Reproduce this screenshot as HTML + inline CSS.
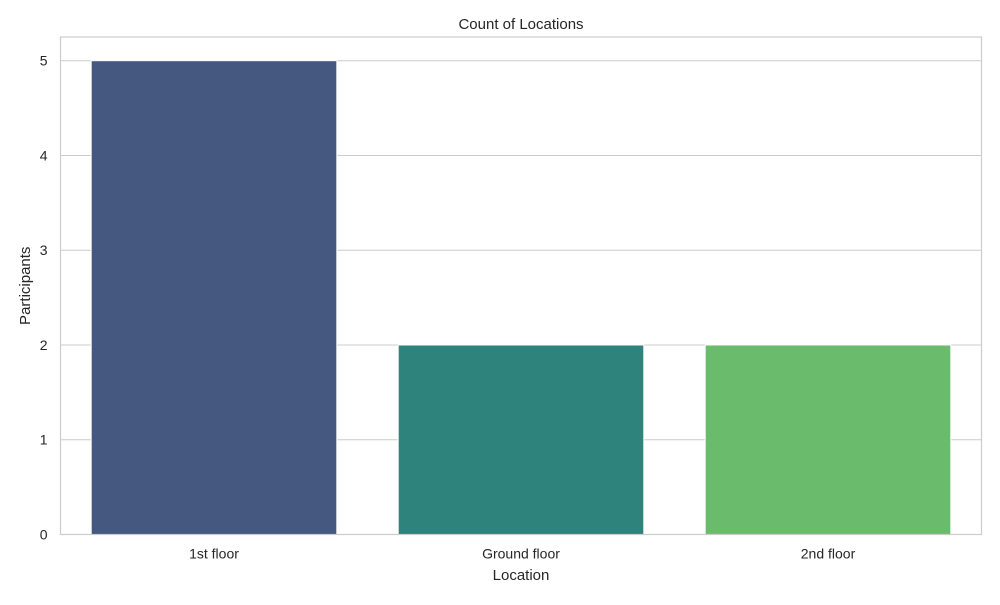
<!DOCTYPE html>
<html><head><meta charset="utf-8"><style>
body{margin:0;background:#fff;font-family:"Liberation Sans","DejaVu Sans",sans-serif;}
</style></head><body>
<svg id="chart" width="1000" height="600" xmlns="http://www.w3.org/2000/svg">
<rect width="1000" height="600" fill="#fff"/>
<g id="grid"></g><g id="bars"></g><g id="axes"></g>
</svg>
<script>
const categories = ["1st floor","Ground floor","2nd floor"];
const values = [5,2,2];
const colors = ["#45587f","#2e837c","#6abc6c"];
const yTicks = [0,1,2,3,4,5];
const NS="http://www.w3.org/2000/svg";
const L=60.5,R=981.5,T=37,B=534.5,yMax=5.25;
const y=v=>B-(v/yMax)*(B-T);
const step=(R-L)/categories.length;
const x=i=>L+step*(i+0.5);
function mk(tag,attrs,parent,text){const e=document.createElementNS(NS,tag);for(const k in attrs)e.setAttribute(k,attrs[k]);if(text!==undefined)e.textContent=text;parent.appendChild(e);return e;}
const grid=document.getElementById('grid'),bars=document.getElementById('bars'),axes=document.getElementById('axes');
yTicks.forEach(t=>{
 const g=mk('line',{x1:L,x2:R,y1:y(t),y2:y(t),stroke:'#cccccc','stroke-width':1},grid);
 
 
 const tl=mk('text',{x:L-13,y:y(t)+5,'text-anchor':'end','font-size':14,fill:'#262626'},axes,String(t));
 
 
});
values.forEach((v,i)=>{
 const w=step*0.8;
 const r=mk('rect',{x:x(i)-w/2,y:y(v),width:w,height:y(0)-y(v),fill:colors[i],stroke:'#fff','stroke-width':1},bars);
 
 
 const tl=mk('text',{x:x(i),y:B+24,'text-anchor':'middle','font-size':14,fill:'#262626'},axes,categories[i]);
 
 
});
const fr=mk('rect',{x:L,y:T,width:R-L,height:B-T,fill:'none',stroke:'#cccccc','stroke-width':1.2},axes);


const ti=mk('text',{x:(L+R)/2,y:29,'text-anchor':'middle','font-size':15,fill:'#262626'},axes,'Count of Locations');


const xt=mk('text',{x:(L+R)/2,y:580,'text-anchor':'middle','font-size':15,fill:'#262626'},axes,'Location');


const yt=mk('text',{x:30,y:(T+B)/2,'text-anchor':'middle','font-size':15,fill:'#262626',transform:'rotate(-90 30 '+((T+B)/2)+')'},axes,'Participants');


</script>
</body></html>
